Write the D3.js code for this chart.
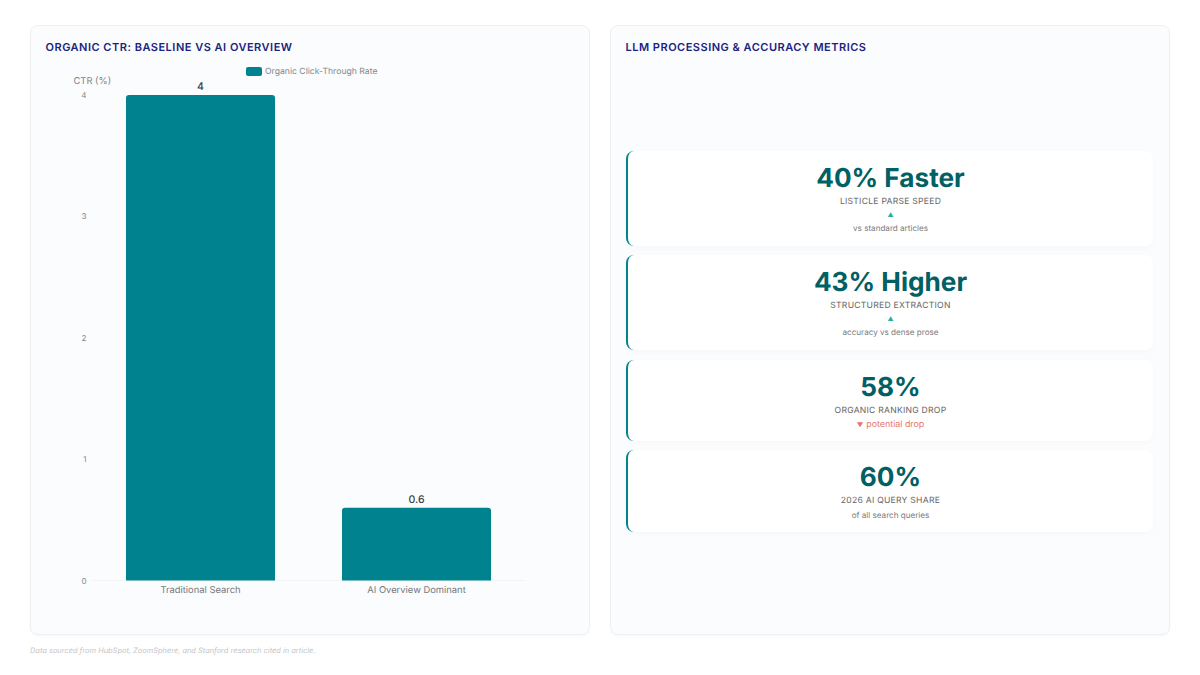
<!DOCTYPE html>
<html>
<head>
<meta charset="utf-8">
<script src="https://cdn.jsdelivr.net/npm/d3@7"></script>
<style>
  html, body { margin: 0; padding: 0; background: #fff; }
  body { width: 1200px; height: 675px; position: relative; overflow: hidden; font-family: Inter, sans-serif; text-rendering: geometricPrecision; }
  .panel { position: absolute; top: 25px; width: 558px; height: 608px; background: #fafcfe; border: 1px solid #eef1f3; border-radius: 8px; box-shadow: 0 1px 2px rgba(0,0,0,0.03); }
  .panel-title { position: absolute; left: 14.5px; top: 13px; font-size: 11px; line-height: 16px; font-weight: 600; letter-spacing: 0.5px; color: #1a237e; white-space: nowrap; }
  .card { position: absolute; left: 626px; width: 525px; background: #fff; border-left: 2.6px solid #00838f; border-radius: 8px; box-shadow: 0 2px 6px rgba(0,0,0,0.025); text-align: center; }
  .card div { position: absolute; left: 0; right: 0; white-space: nowrap; }
  .big { font-weight: 700; font-size: 26.2px; line-height: 34px; top: 10.5px; color: #006064; }
  .label { font-size: 8.6px; line-height: 12px; top: 45px; letter-spacing: 0.25px; color: #666; }
  .arrow { font-size: 6px; line-height: 10px; top: 60px; color: #26b290; }
  .sub { font-size: 8.1px; line-height: 12px; top: 71px; color: #7a7a7a; }
  .drop { font-size: 8.9px; line-height: 12px; top: 58.5px; color: #e57368; }
  .drop .tri { font-size: 6.5px; margin-right: 3px; }
  .footer { position: absolute; left: 30px; top: 645px; font-size: 7.45px; line-height: 11px; font-style: italic; color: #c4c6c9; }
  svg { position: absolute; left: 0; top: 0; }
  svg text { font-family: Inter, sans-serif; }
</style>
</head>
<body>
<script>
// Bar chart values
const categories = ["Traditional Search", "AI Overview Dominant"];
const ctrValues = [4, 0.6];
const yTicks = [0, 1, 2, 3, 4];
const seriesName = "Organic Click-Through Rate";
const yAxisTitle = "CTR (%)";

// Metric cards
const cardBig = ["40% Faster", "43% Higher", "58%", "60%"];
const cardLabels = ["LISTICLE PARSE SPEED", "STRUCTURED EXTRACTION", "ORGANIC RANKING DROP", "2026 AI QUERY SHARE"];
const cardSubs = ["vs standard articles", "accuracy vs dense prose", "potential drop", "of all search queries"];
const cardTrend = ["up", "up", "down", "none"];
const cardTops = [151, 255, 360, 450];
const cardHeights = [95, 95, 81, 82];

const teal = "#00838f";
const body = d3.select("body");

// Panels
const panelTitles = ["ORGANIC CTR: BASELINE VS AI OVERVIEW", "LLM PROCESSING & ACCURACY METRICS"];
const panelLefts = [30, 610];
body.selectAll(".panel").data(panelTitles).enter().append("div")
    .attr("class", "panel")
    .style("left", (d, i) => panelLefts[i] + "px")
    .append("div").attr("class", "panel-title").text(d => d);

// Chart
const svg = body.append("svg").attr("width", 1200).attr("height", 675);

const x = d3.scaleBand().domain(categories).range([92.5, 524.5]).paddingInner(0.31).paddingOuter(0.155);
const y = d3.scaleLinear().domain([0, 4]).range([580.5, 95]);

// baseline
svg.append("line")
    .attr("x1", 92).attr("x2", 526)
    .attr("y1", y(0)).attr("y2", y(0))
    .attr("stroke", "#f3f4f6").attr("stroke-width", 1);

// top corners rounded only
function barPath(d, i) {
    const r = 3, x0 = x(categories[i]), w = x.bandwidth(), top = y(d), bot = y(0);
    return `M${x0},${bot}V${top + r}Q${x0},${top} ${x0 + r},${top}H${x0 + w - r}Q${x0 + w},${top} ${x0 + w},${top + r}V${bot}Z`;
}
svg.selectAll(".bar").data(ctrValues).enter().append("path")
    .attr("class", "bar").attr("d", barPath).attr("fill", teal);

svg.selectAll(".value").data(ctrValues).enter().append("text")
    .attr("class", "value")
    .attr("x", (d, i) => x(categories[i]) + x.bandwidth() / 2)
    .attr("y", d => y(d) - 5)
    .attr("text-anchor", "middle")
    .attr("font-size", 10.5).attr("font-weight", 500).attr("fill", "#3a3f44")
    .text(d => d);

const yAxis = d3.axisLeft(y).tickValues(yTicks).tickSize(0).tickPadding(5.5).tickFormat(d3.format("d"));
const yG = svg.append("g").attr("transform", "translate(92,0)").call(yAxis);
yG.select(".domain").remove();
yG.selectAll("text").attr("font-size", 8).attr("font-family", "Inter, sans-serif").attr("fill", "#808488");

const xAxis = d3.axisBottom(x).tickSize(0).tickPadding(5.5);
const xG = svg.append("g").attr("transform", `translate(0,${y(0)})`).call(xAxis);
xG.select(".domain").remove();
xG.selectAll("text").attr("font-size", 9.4).attr("font-family", "Inter, sans-serif").attr("fill", "#74797d");

svg.append("text").attr("x", 73.5).attr("y", 84)
    .attr("font-size", 9.4).attr("fill", "#808488").text(yAxisTitle);

// Legend
svg.append("rect").attr("x", 246).attr("y", 67).attr("width", 16).attr("height", 9).attr("rx", 2).attr("fill", teal);
svg.append("text").attr("x", 265).attr("y", 74)
    .attr("font-size", 8.65).attr("fill", "#85898d").text(seriesName);

// Metric cards
const cards = body.selectAll(".card").data(cardBig).enter().append("div")
    .attr("class", "card")
    .style("top", (d, i) => cardTops[i] + "px")
    .style("height", (d, i) => cardHeights[i] + "px");

cards.append("div").attr("class", "big").text(d => d);
cards.append("div").attr("class", "label").text((d, i) => cardLabels[i]);
cards.each(function (d, i) {
    const card = d3.select(this);
    if (cardTrend[i] === "up") {
        card.append("div").attr("class", "arrow").text("\u25B2");
        card.append("div").attr("class", "sub").text(cardSubs[i]);
    } else if (cardTrend[i] === "down") {
        const drop = card.append("div").attr("class", "drop");
        drop.append("span").attr("class", "tri").text("\u25BC");
        drop.append("span").text(cardSubs[i]);
    } else {
        card.append("div").attr("class", "sub").style("top", "59px").text(cardSubs[i]);
    }
});

body.append("div").attr("class", "footer").text("Data sourced from HubSpot, ZoomSphere, and Stanford research cited in article.");
</script>
</body>
</html>
